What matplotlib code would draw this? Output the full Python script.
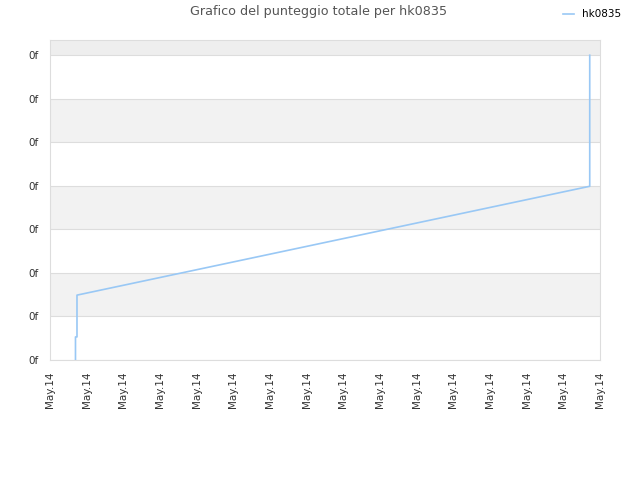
import matplotlib
matplotlib.use("Agg")
import matplotlib.pyplot as plt

# score series (x in tick units, y in tick units)
x_vals = [0.695, 0.695, 0.736, 0.736, 14.72, 14.72]
y_vals = [0.0, 0.53, 0.53, 1.49, 3.99, 7.0]
x_ticks = list(range(16))
x_labels = ["May.14"] * 16
y_ticks = list(range(8))
y_labels = ["0f"] * 8

fig = plt.figure(figsize=(6.4, 4.8), dpi=100)
ax = fig.add_axes([50 / 640, 120 / 480, 550 / 640, 320 / 480])

# alternating bands
for i in range(0, 8):
    if i % 2 == 1:
        ax.axhspan(i, i + 1, color="#f2f2f2", lw=0, zorder=0)
ax.axhspan(7, 7.35, color="#eeeeee", lw=0, zorder=0)
for yt in y_ticks:
    ax.axhline(yt, color="#dddddd", lw=0.8, zorder=1)

ax.plot(x_vals, y_vals, color="#99c8f5", lw=1.2, label="hk0835", zorder=3)

ax.set_xlim(0, 15)
ax.set_ylim(0, 7.35)
ax.set_xticks(x_ticks)
ax.set_xticklabels(x_labels, rotation=90, fontsize=7.5, color="#333333")
ax.set_yticks(y_ticks)
ax.set_yticklabels(y_labels, fontsize=7.5, color="#333333")
ax.tick_params(length=0, pad=8)
for s in ax.spines.values():
    s.set_color("#dddddd")

fig.text(0.497, 0.975, "Grafico del punteggio totale per hk0835", ha="center", va="center",
         fontsize=9.2, color="#555555")
fig.legend(loc="upper right", bbox_to_anchor=(0.985, 1.0), frameon=False, fontsize=7.5,
           handlelength=1.0, handletextpad=0.8)

fig.savefig("out.png")
